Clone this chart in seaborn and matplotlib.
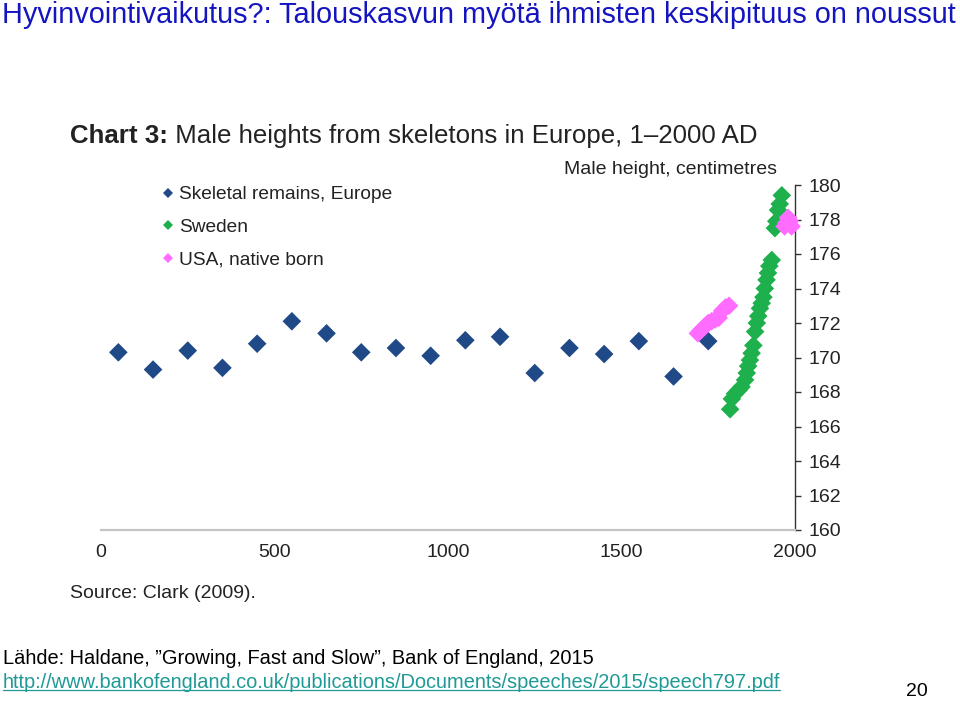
import pandas as pd
import numpy as np
import matplotlib.pyplot as plt
import seaborn as sns
from matplotlib.lines import Line2D

# skeletal remains, Europe (century midpoints)
skel_years = [50, 150, 250, 350, 450, 550, 650, 750, 850, 950, 1050, 1150,
              1250, 1350, 1450, 1550, 1650, 1750]
skel_heights = [170.3, 169.3, 170.4, 169.4, 170.8, 172.1, 171.4, 170.3, 170.55,
                170.1, 171.0, 171.2, 169.1, 170.55, 170.2, 170.95, 168.9, 170.95]

# Sweden
swe_years = [1813, 1818, 1827, 1837, 1846, 1856, 1861, 1865, 1870, 1875, 1880,
             1885, 1890, 1894, 1899, 1904, 1909, 1913, 1918, 1922, 1926, 1933,
             1942, 1946, 1951, 1956, 1962]
swe_heights = [167.0, 167.6, 167.9, 168.1, 168.3, 168.7, 169.1, 169.5, 169.85,
               170.25, 170.7, 171.5, 172.0, 172.4, 172.85, 173.15, 173.5, 174.0,
               174.5, 174.9, 175.3, 175.65, 177.5, 177.9, 178.55, 178.9, 179.4]

# USA, native born
usa_years = [1720, 1730, 1740, 1750, 1760, 1770, 1780, 1790, 1800, 1810,
             1970, 1975, 1980, 1985, 1990]
usa_heights = [171.4, 171.6, 171.8, 172.0, 172.1, 172.2, 172.3, 172.7, 172.9, 173.0,
               177.6, 177.8, 178.1, 177.9, 177.6]

series_names = ['Skeletal remains, Europe', 'Sweden', 'USA, native born']
series_colors = ['#1f4a87', '#1db04c', '#ff6cff']
x_ticks = [0, 500, 1000, 1500, 2000]
y_ticks = list(range(160, 181, 2))

df = pd.concat([
    pd.DataFrame({'year': skel_years, 'height': skel_heights, 'series': series_names[0]}),
    pd.DataFrame({'year': swe_years, 'height': swe_heights, 'series': series_names[1]}),
    pd.DataFrame({'year': usa_years, 'height': usa_heights, 'series': series_names[2]}),
])

sns.set_style('white')
plt.rcParams['font.family'] = ['Liberation Sans', 'DejaVu Sans']

fig = plt.figure(figsize=(9.6, 7.01), dpi=100)
ax = fig.add_axes([101/960, 1 - 530/701, 694/960, 345/701])

sns.scatterplot(data=df, x='year', y='height', hue='series', hue_order=series_names,
                palette=series_colors, marker='D', s=90, linewidth=0, ax=ax,
                clip_on=False, zorder=3)

ax.set_xlim(0, 2000)
ax.set_ylim(160, 180)
ax.set_xticks(x_ticks)
ax.set_yticks(y_ticks)
ax.set_xlabel('')
ax.set_ylabel('')

for s in ['top', 'left']:
    ax.spines[s].set_visible(False)
ax.spines['bottom'].set_color('#c4c4c4')
ax.spines['bottom'].set_linewidth(1.6)
ax.spines['right'].set_color('#333333')
ax.spines['right'].set_linewidth(1.0)

ax.yaxis.tick_right()
ax.tick_params(axis='x', direction='in', length=4, width=1.2, color='#c4c4c4',
               labelsize=14, labelcolor='#222222', pad=10)
ax.tick_params(axis='y', direction='out', length=4, width=1.0, color='#333333',
               labelsize=14, labelcolor='#222222', pad=6, right=True, left=False)

sns.move_legend(ax, 'upper left', bbox_to_anchor=(163/960, 1 - 186/701),
                bbox_transform=fig.transFigure, frameon=False, title=None,
                fontsize=13.8, markerscale=0.5, handlelength=0.5,
                handletextpad=0.35, labelspacing=0.8, borderpad=0,
                borderaxespad=0)
for t in ax.get_legend().get_texts():
    t.set_color('#222222')

# chart heading: bold label followed by normal text
t1 = fig.text(70/960, 1 - 136/701, 'Chart 3:', fontsize=18.6, fontweight='bold',
              va='center', ha='left', color='#222222')
ax.annotate(' Male heights from skeletons in Europe, 1\u20132000 AD', xy=(1, 0.5),
            xycoords=t1, va='center', ha='left', fontsize=18.6, color='#222222')

fig.text(777/960, 1 - 170/701, 'Male height, centimetres', fontsize=14,
         ha='right', va='center', color='#222222')
fig.text(70/960, 1 - 593/701, 'Source: Clark (2009).', fontsize=14,
         ha='left', va='center', color='#222222')

# slide text
fig.text(2/960, 1 - 15/701, 'Hyvinvointivaikutus?: Talouskasvun myötä ihmisten keskipituus on noussut',
         fontsize=20.8, color='#1515c0', ha='left', va='center')
fig.text(3/960, 1 - 659/701, 'Lähde: Haldane, \u201dGrowing, Fast and Slow\u201d, Bank of England, 2015',
         fontsize=14.4, color='black', ha='left', va='center')
url = fig.text(3/960, 1 - 682/701,
               'http://www.bankofengland.co.uk/publications/Documents/speeches/2015/speech797.pdf',
               fontsize=14.4, color='#1f9a96', ha='left', va='center')
fig.text(917/960, 1 - 692/701, '20', fontsize=14, color='black', ha='center', va='center')

fig.canvas.draw()
bb = url.get_window_extent().transformed(fig.transFigure.inverted())
fig.add_artist(Line2D([bb.x0, bb.x1], [bb.y0 + 0.002, bb.y0 + 0.002],
                      color='#1f9a96', linewidth=0.9, transform=fig.transFigure))

fig.savefig('out.png', dpi=100)
